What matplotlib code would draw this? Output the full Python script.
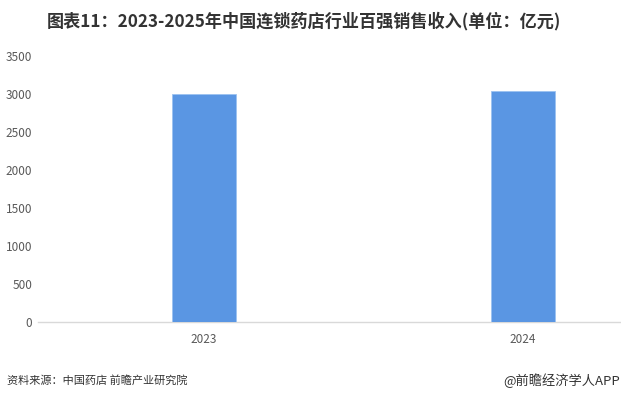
import matplotlib
matplotlib.use('Agg')
import matplotlib.pyplot as plt

plt.rcParams['font.family'] = ['Noto Sans CJK SC', 'DejaVu Sans']

# data
years = ['2023', '2024']
revenue = [3000, 3035]
yticks = [0, 500, 1000, 1500, 2000, 2500, 3000, 3500]

fig = plt.figure(figsize=(6.21, 4.03), dpi=100)
ax = fig.add_axes([0.061, 0.201, 0.939, 0.66])

x = range(len(years))
ax.bar(x, revenue, width=0.2, color='#5a96e3', edgecolor='#9cc2f0', linewidth=0.6, zorder=3)

ax.set_xlim(-0.52, 1.307)
ax.set_ylim(0, 3500)
ax.set_xticks(list(x))
ax.set_xticklabels(years)
ax.set_yticks(yticks)

for s in ['top', 'right', 'left']:
    ax.spines[s].set_visible(False)
ax.spines['bottom'].set_color('#d9d9d9')
ax.spines['bottom'].set_linewidth(1.0)
ax.tick_params(axis='both', length=0, labelsize=8.5, labelcolor='#595959')
ax.tick_params(axis='x', pad=8)
ax.tick_params(axis='y', pad=4)

fig.text(0.49, 0.948, '图表11：2023-2025年中国连锁药店行业百强销售收入(单位：亿元)',
         ha='center', va='center', fontsize=12.3, fontweight='bold', color='#333333')
fig.text(0.012, 0.055, '资料来源：中国药店 前瞻产业研究院', ha='left', va='center',
         fontsize=8, color='#333333')
fig.text(0.998, 0.055, '@前瞻经济学人APP', ha='right', va='center',
         fontsize=9.5, color='#333333')

fig.savefig('out.png', dpi=100)
